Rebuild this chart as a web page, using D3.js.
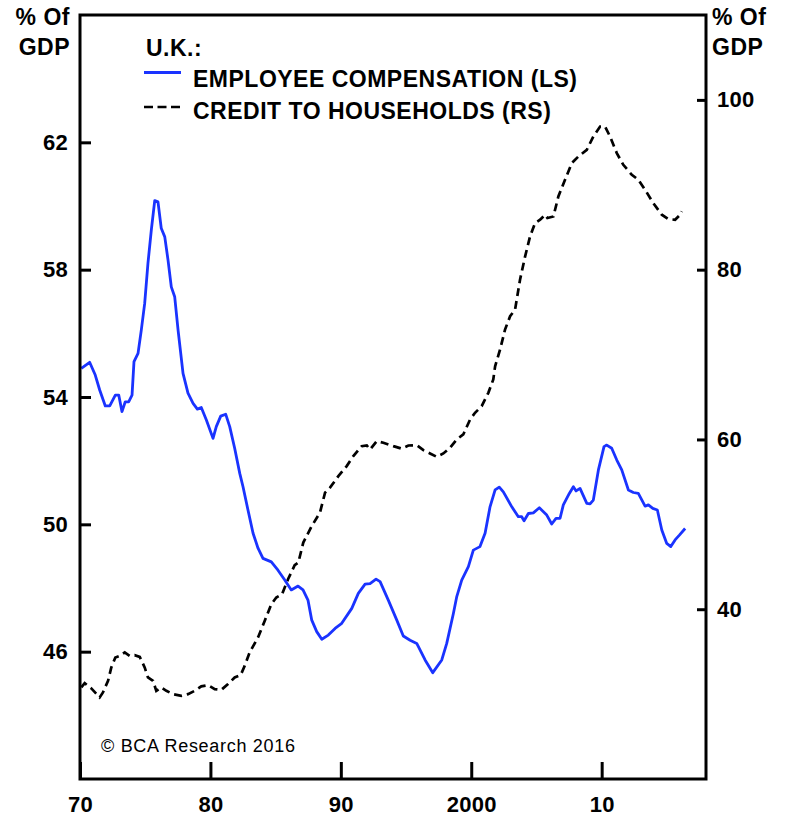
<!DOCTYPE html>
<html lang="en">
  <head>
    <meta charset="utf-8"/>
    <title>U.K. employee compensation vs credit to households</title>
    <script src="https://cdn.jsdelivr.net/npm/d3@7"></script>
    <style>
      body { margin: 0; background: #fff; }
      text { font-family: "Liberation Sans", Arial, sans-serif; fill: #000; }
      .bold { font-weight: bold; font-size: 23px; letter-spacing: 0.5px; }
      .axis text { font-weight: bold; font-size: 22px; letter-spacing: 0.3px; font-family: "Liberation Sans", Arial, sans-serif; }
      .axis line { stroke: #000; stroke-width: 3; }
      .axis path { display: none; }
    </style>
  </head>

  <body>
    <div id="chart"></div>
    <script type="text/javascript">

      // employee compensation, % of GDP (left scale)
      var compYears = [
        1970.10, 1970.74, 1971.17, 1971.51, 1971.94, 1972.28, 1972.71, 1972.97, 1973.22, 1973.47,
        1973.73, 1973.99, 1974.14, 1974.45, 1974.70, 1974.96, 1975.21, 1975.47, 1975.73, 1975.98,
        1976.23, 1976.50, 1976.75, 1977.00, 1977.26, 1977.52, 1977.90, 1978.28, 1978.67, 1979.00,
        1979.30, 1979.69, 1980.20, 1980.45, 1980.79, 1981.17, 1981.48, 1981.86, 1982.25, 1982.50,
        1982.88, 1983.27, 1983.65, 1984.03, 1984.67, 1985.18, 1985.70, 1986.20, 1986.72, 1987.10,
        1987.48, 1987.77, 1988.15, 1988.54, 1989.04, 1989.56, 1990.07, 1990.84, 1991.34, 1991.86,
        1992.24, 1992.70, 1993.01, 1993.64, 1994.29, 1994.79, 1995.31, 1995.82, 1996.46, 1997.05,
        1997.74, 1998.12, 1998.63, 1998.89, 1999.27, 1999.78, 2000.16, 2000.67, 2001.06, 2001.44,
        2001.83, 2002.15, 2002.46, 2003.11, 2003.61, 2003.87, 2004.05, 2004.38, 2004.76, 2005.22,
        2005.79, 2006.17, 2006.50, 2006.81, 2007.06, 2007.52, 2007.83, 2008.04, 2008.34, 2008.86,
        2009.11, 2009.36, 2009.75, 2010.18, 2010.39, 2010.77, 2011.16, 2011.54, 2012.05, 2012.43,
        2012.81, 2013.33, 2013.58, 2013.92, 2014.27, 2014.61, 2014.99, 2015.30, 2015.63, 2015.96,
        2016.40
      ];
      var compValues = [
        54.90, 55.09, 54.69, 54.22, 53.72, 53.72, 54.06, 54.06, 53.54, 53.85,
        53.85, 54.06, 55.11, 55.37, 56.10, 56.94, 58.20, 59.25, 60.17, 60.13,
        59.30, 59.03, 58.30, 57.46, 57.15, 56.10, 54.74, 54.12, 53.80, 53.62,
        53.67, 53.28, 52.70, 53.07, 53.40, 53.46, 53.07, 52.39, 51.60, 51.18,
        50.45, 49.72, 49.25, 48.93, 48.82, 48.56, 48.25, 47.94, 48.06, 47.94,
        47.62, 46.99, 46.63, 46.39, 46.52, 46.73, 46.89, 47.36, 47.83, 48.12,
        48.14, 48.28, 48.20, 47.62, 46.99, 46.49, 46.36, 46.26, 45.74, 45.34,
        45.74, 46.26, 47.20, 47.73, 48.25, 48.67, 49.19, 49.30, 49.72, 50.55,
        51.08, 51.17, 51.02, 50.55, 50.24, 50.24, 50.11, 50.34, 50.36, 50.52,
        50.29, 50.01, 50.19, 50.19, 50.61, 50.97, 51.18, 51.05, 51.13, 50.66,
        50.64, 50.76, 51.71, 52.44, 52.49, 52.39, 52.02, 51.71, 51.08, 51.00,
        50.97, 50.57, 50.61, 50.50, 50.45, 49.82, 49.40, 49.30, 49.51, 49.66,
        49.87
      ];

      // credit to households, % of GDP (right scale)
      var creditYears = [
        1970.10, 1970.36, 1970.87, 1971.51, 1971.76, 1972.15, 1972.40, 1972.71, 1973.04, 1973.43,
        1973.81, 1974.19, 1974.58, 1974.96, 1975.21, 1975.60, 1975.85, 1976.23, 1976.62, 1977.13,
        1977.77, 1978.28, 1978.80, 1979.30, 1979.82, 1980.33, 1980.84, 1981.35, 1981.86, 1982.32,
        1982.63, 1983.01, 1983.65, 1984.16, 1984.67, 1985.05, 1985.49, 1985.95, 1986.46, 1986.74,
        1987.12, 1987.77, 1988.40, 1988.79, 1989.17, 1989.81, 1990.45, 1990.96, 1991.60, 1991.99,
        1992.24, 1992.75, 1993.26, 1994.03, 1994.67, 1995.18, 1995.82, 1996.33, 1996.84, 1997.35,
        1997.86, 1998.37, 1998.89, 1999.39, 1999.91, 2000.29, 2000.80, 2001.31, 2001.69, 2001.83,
        2002.21, 2002.59, 2002.98, 2003.36, 2003.74, 2004.13, 2004.51, 2004.89, 2005.28, 2005.66,
        2005.84, 2006.30, 2006.68, 2007.19, 2007.71, 2008.21, 2008.86, 2009.36, 2009.88, 2010.26,
        2010.64, 2011.16, 2011.66, 2012.31, 2012.81, 2013.33, 2013.96, 2014.61, 2015.11, 2015.63,
        2016.01, 2016.14
      ];
      var creditValues = [
        30.79, 31.29, 30.67, 29.61, 30.20, 31.56, 33.14, 34.32, 34.51, 34.91,
        34.51, 34.59, 34.39, 33.14, 31.96, 31.56, 30.39, 30.79, 30.39, 30.00,
        29.80, 30.00, 30.39, 30.91, 31.06, 30.59, 30.51, 31.18, 31.96, 32.24,
        33.33, 34.91, 36.67, 38.62, 40.59, 41.38, 41.76, 43.53, 45.18, 45.49,
        47.85, 49.80, 51.38, 53.73, 54.32, 55.68, 56.86, 58.04, 59.21, 59.29,
        58.82, 59.80, 59.61, 59.21, 58.91, 59.29, 59.33, 58.74, 58.35, 57.96,
        58.35, 59.02, 60.00, 60.59, 62.35, 63.14, 63.92, 65.49, 67.06, 68.62,
        70.59, 72.94, 74.51, 75.29, 78.82, 81.56, 83.92, 85.49, 85.88, 86.47,
        86.08, 86.27, 88.62, 90.59, 92.55, 93.33, 94.12, 95.69, 96.86, 96.86,
        95.69, 93.73, 92.35, 91.18, 90.59, 89.41, 87.84, 86.47, 85.96, 85.88,
        86.47, 86.86
      ];

      // axis ticks and labels
      var xTicks = [1970, 1980, 1990, 2000, 2010];
      var xTickLabels = ["70", "80", "90", "2000", "10"];
      var leftTicks = [46, 50, 54, 58, 62];
      var rightTicks = [40, 60, 80, 100];

      var width = 790;
      var height = 816;
      var margin = {top: 15, right: 84, bottom: 37, left: 80};

      var x = d3.scaleLinear()
        .domain([1970, 2018])
        .range([margin.left, width - margin.right])
      ;
      var yLeft = d3.scaleLinear()
        .domain([42, 66])
        .range([height - margin.bottom, margin.top])
      ;
      var yRight = d3.scaleLinear()
        .domain([20, 110])
        .range([height - margin.bottom, margin.top])
      ;

      var svg = d3.select("#chart")
        .append("svg")
        .attr("width", width)
        .attr("height", height)
      ;

      // ticks point inward, the frame is drawn on top
      svg.append("g")
        .attr("class", "axis")
        .attr("transform", "translate(0," + (height - margin.bottom) + ")")
        .call(d3.axisBottom(x)
          .tickValues(xTicks)
          .tickSizeInner(-17)
          .tickSizeOuter(0)
          .tickPadding(17)
          .tickFormat(function(d, i) { return xTickLabels[i]; }))
      ;
      svg.append("g")
        .attr("class", "axis")
        .attr("transform", "translate(" + margin.left + ",0)")
        .call(d3.axisLeft(yLeft)
          .tickValues(leftTicks)
          .tickSizeInner(-11)
          .tickSizeOuter(0)
          .tickPadding(12))
      ;
      svg.append("g")
        .attr("class", "axis")
        .attr("transform", "translate(" + (width - margin.right) + ",0)")
        .call(d3.axisRight(yRight)
          .tickValues(rightTicks)
          .tickSizeInner(-9)
          .tickSizeOuter(0)
          .tickPadding(11))
      ;

      // series lines
      var compLine = d3.line()
        .x(function(d, i) { return x(compYears[i]); })
        .y(function(d) { return yLeft(d); })
      ;
      var creditLine = d3.line()
        .x(function(d, i) { return x(creditYears[i]); })
        .y(function(d) { return yRight(d); })
      ;

      svg.append("path")
        .datum(creditValues)
        .attr("d", creditLine)
        .attr("fill", "none")
        .attr("stroke", "#000")
        .attr("stroke-width", 2.7)
        .attr("stroke-dasharray", "8,5")
      ;
      svg.append("path")
        .datum(compValues)
        .attr("d", compLine)
        .attr("fill", "none")
        .attr("stroke", "#1a33ff")
        .attr("stroke-width", 2.8)
        .attr("stroke-linejoin", "round")
      ;

      // frame
      svg.append("rect")
        .attr("x", margin.left)
        .attr("y", margin.top)
        .attr("width", width - margin.left - margin.right)
        .attr("height", height - margin.top - margin.bottom)
        .attr("fill", "none")
        .attr("stroke", "#000")
        .attr("stroke-width", 3)
      ;

      // unit labels
      [["% Of", 25], ["GDP", 55]].forEach(function(t) {
        svg.append("text").attr("class", "bold")
          .attr("x", 70).attr("y", t[1]).attr("text-anchor", "end").text(t[0]);
        svg.append("text").attr("class", "bold")
          .attr("x", 712).attr("y", t[1]).text(t[0]);
      });

      // legend
      svg.append("text").attr("class", "bold")
        .attr("x", 146).attr("y", 56).text("U.K.:");
      svg.append("line")
        .attr("x1", 144).attr("x2", 181).attr("y1", 72.5).attr("y2", 72.5)
        .attr("stroke", "#1a33ff").attr("stroke-width", 2.8);
      svg.append("text").attr("class", "bold")
        .attr("x", 193).attr("y", 87).text("EMPLOYEE COMPENSATION (LS)");
      svg.append("line")
        .attr("x1", 144).attr("x2", 181).attr("y1", 107).attr("y2", 107)
        .attr("stroke", "#000").attr("stroke-width", 2.7)
        .attr("stroke-dasharray", "9,4.5");
      svg.append("text").attr("class", "bold")
        .attr("x", 193).attr("y", 118.5).text("CREDIT TO HOUSEHOLDS (RS)");

      svg.append("text")
        .attr("x", 101).attr("y", 752)
        .style("font-size", "18px")
        .style("letter-spacing", "0.7px")
        .text("\u00a9 BCA Research 2016");
    </script>
  </body>
</html>
